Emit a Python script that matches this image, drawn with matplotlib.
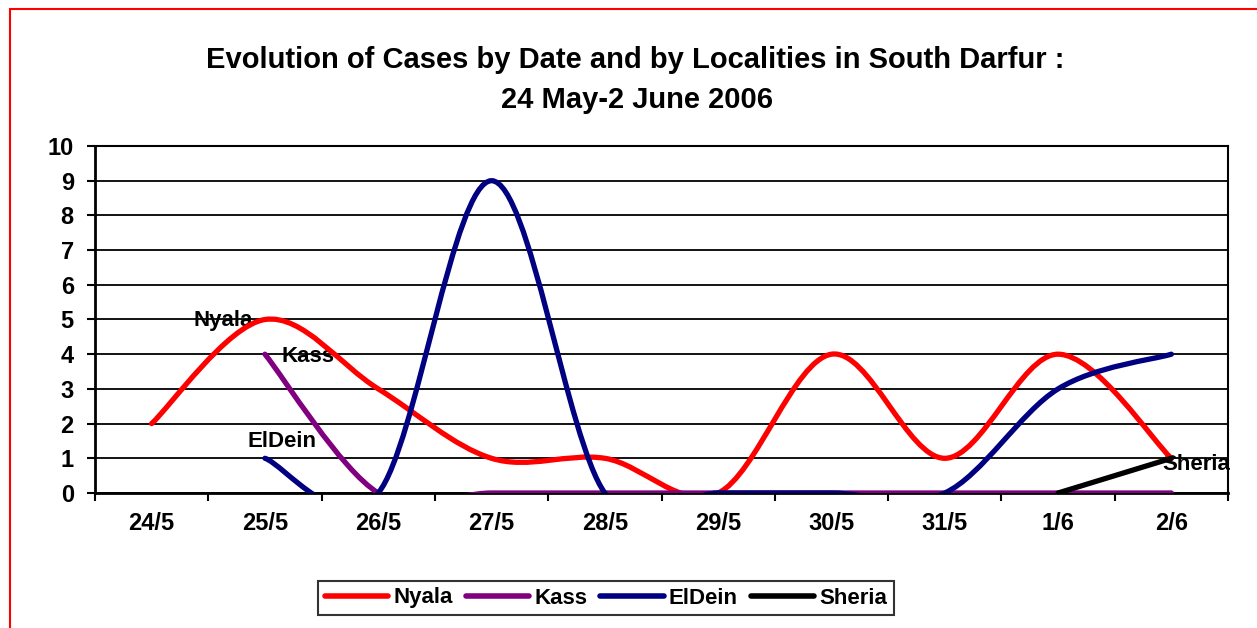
import matplotlib
matplotlib.use("Agg")
import matplotlib.pyplot as plt
from matplotlib.path import Path
from matplotlib.patches import PathPatch, Rectangle
from matplotlib.lines import Line2D

plt.rcParams['font.family'] = ['Liberation Sans', 'DejaVu Sans']

categories = ["24/5", "25/5", "26/5", "27/5", "28/5", "29/5", "30/5", "31/5", "1/6", "2/6"]
nyala  = [2, 5, 3, 1, 1, 0, 4, 1, 4, 1]
kass   = [None, 4, 0, 0, 0, 0, 0, 0, 0, 0]
eldein = [None, 1, 0, 9, 0, 0, 0, 0, 3, 4]
sheria = [None, None, None, None, None, None, None, None, 0, 1]
y_ticks = [0, 1, 2, 3, 4, 5, 6, 7, 8, 9, 10]

series = [("Nyala", nyala, "#FF0000"), ("Kass", kass, "#800080"),
          ("ElDein", eldein, "#000080"), ("Sheria", sheria, "#000000")]

W, H = 1257, 628
fig = plt.figure(figsize=(W / 100, H / 100), dpi=100)
fig.patch.set_facecolor("white")

# red outer border (only top and left visible)
fig.add_artist(Rectangle((10 / W, -0.1), 1.2, 1 - 9.5 / H + 0.1, transform=fig.transFigure,
                         fill=False, edgecolor="#FF0000", lw=1.5))

ax = fig.add_axes([95 / W, 1 - 493 / H, (1228 - 95) / W, (493 - 146) / H])
ax.set_xlim(-0.5, len(categories) - 0.5)
ax.set_ylim(0, 10)


def smooth_path(xs, ys):
    n = len(xs)
    verts = [(xs[0], ys[0])]
    codes = [Path.MOVETO]
    for i in range(n - 1):
        xm1, ym1 = (xs[i - 1], ys[i - 1]) if i > 0 else (xs[i], ys[i])
        x2, y2 = (xs[i + 2], ys[i + 2]) if i + 2 < n else (xs[i + 1], ys[i + 1])
        c1 = (xs[i] + (xs[i + 1] - xm1) / 6, ys[i] + (ys[i + 1] - ym1) / 6)
        c2 = (xs[i + 1] - (x2 - xs[i]) / 6, ys[i + 1] - (y2 - ys[i]) / 6)
        verts += [c1, c2, (xs[i + 1], ys[i + 1])]
        codes += [Path.CURVE4] * 3
    return Path(verts, codes)


for name, vals, col in series:
    xs = [i for i, v in enumerate(vals) if v is not None]
    ys = [v for v in vals if v is not None]
    if len(xs) == 2:
        ax.plot(xs, ys, color=col, lw=3.8, solid_capstyle="round", zorder=3)
    else:
        p = PathPatch(smooth_path(xs, ys), fill=False, edgecolor=col, lw=3.8,
                      capstyle="round", joinstyle="round", zorder=3)
        ax.add_patch(p)

# gridlines
for y in y_ticks:
    ax.axhline(y, color="black", lw=1.3, zorder=1)

for s in ax.spines.values():
    s.set_linewidth(1.5)
ax.spines['left'].set_linewidth(2)
ax.spines['bottom'].set_linewidth(2)

ax.set_yticks(y_ticks)
ax.set_yticklabels([str(v) for v in y_ticks], fontsize=17, fontweight="bold")
ax.tick_params(axis="y", length=5.8, width=1.5, pad=9.5)
ax.set_xticks(range(len(categories)))
ax.set_xticklabels(categories, fontsize=17, fontweight="bold")
ax.tick_params(axis="x", length=0, pad=14)
ax.set_xticks([i - 0.5 for i in range(len(categories) + 1)], minor=True)
ax.tick_params(axis="x", which="minor", length=5.5, width=1.5, direction="out")

# data labels
px = 0.72
lab = dict(fontsize=16, fontweight="bold", textcoords="offset points", annotation_clip=False,
           ha="center", va="center", zorder=2)
ax.annotate("Nyala", (1, nyala[1]), xytext=(-42 * px, -1 * px), **lab)
ax.annotate("Kass", (1, kass[1]), xytext=(43 * px, -2 * px), **lab)
ax.annotate("ElDein", (1, eldein[1]), xytext=(17 * px, 17 * px), **lab)
ax.annotate("Sheria", (9, sheria[9]), xytext=(25 * px, -6 * px), **lab)

# title
fig.text(635 / W, 1 - 60 / H, "Evolution of Cases by Date and by Localities in South Darfur :",
         ha="center", va="center", fontsize=21, fontweight="bold")
fig.text(637 / W, 1 - 100 / H, "24 May-2 June 2006",
         ha="center", va="center", fontsize=21, fontweight="bold")

handles = [Line2D([], [], color=c, lw=4, solid_capstyle="round") for _, _, c in series]
leg = fig.legend(handles, [n for n, _, _ in series], loc="center", ncol=4,
                 bbox_to_anchor=(606 / W, 1 - 598 / H), frameon=True, fancybox=False,
                 edgecolor="black", prop=dict(size=16, weight="bold"),
                 handlelength=2.85, handletextpad=0.22, columnspacing=0.6, borderpad=0.3,
                 borderaxespad=0)
leg.get_frame().set_linewidth(1.5)

fig.savefig("out.png", dpi=100, facecolor="white")
